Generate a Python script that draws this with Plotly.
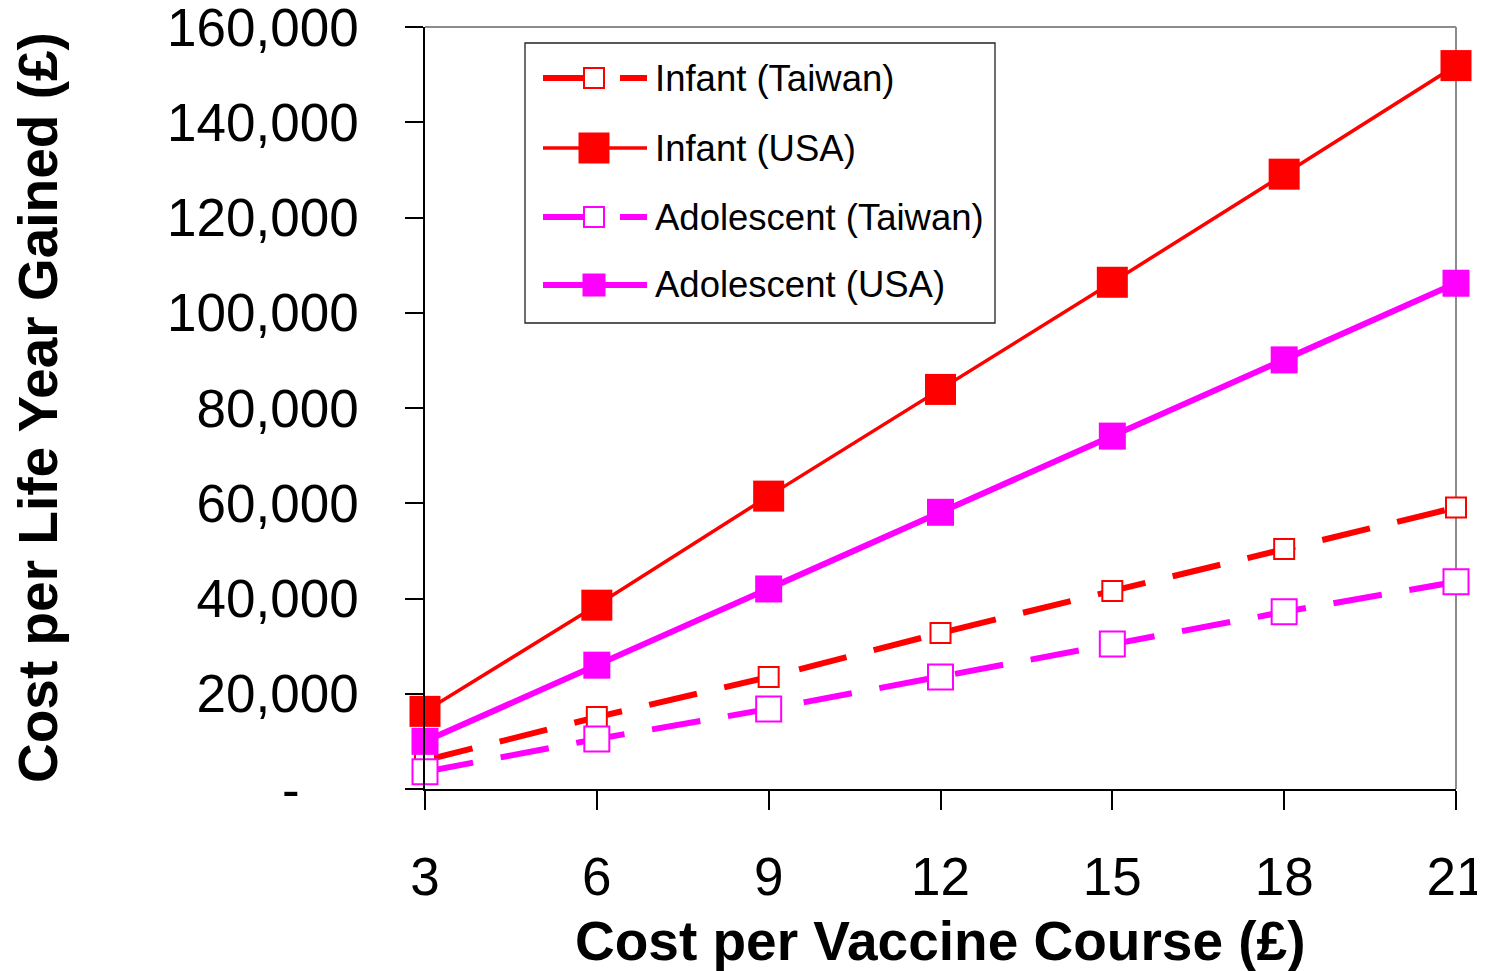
import plotly.graph_objects as go

# ---------------- data ----------------
cost_per_course = [3, 6, 9, 12, 15, 18, 21]
infant_taiwan = [6000, 15100, 23500, 32750, 41600, 50400, 59100]
infant_usa = [16300, 38600, 61500, 83900, 106400, 129100, 151900]
adolescent_taiwan = [3600, 10500, 16800, 23500, 30450, 37200, 43500]
adolescent_usa = [10000, 26000, 42000, 58100, 74100, 90100, 106200]

y_tick_vals = [0, 20000, 40000, 60000, 80000, 100000, 120000, 140000, 160000]
y_tick_text = ["-\u00a0\u00a0\u00a0\u00a0", "20,000", "40,000", "60,000", "80,000",
               "100,000", "120,000", "140,000", "160,000"]

series_names = ["Infant (Taiwan)", "Infant (USA)", "Adolescent (Taiwan)", "Adolescent (USA)"]

RED = "#FF0000"
MAG = "#FF00FF"
FONT = "Arial, Liberation Sans, sans-serif"
DASH = "49px,28px"

# page geometry (the html body adds an 8px margin)
PAGE_W, PAGE_H, OFF = 1485, 971, 8
W, H = PAGE_W - OFF, PAGE_H - OFF
# plot area in page pixels
L, R, T, B = 425, 1456, 27, 789


def px2x(px):
    return (px - L) / (R - L)


def py2y(py):
    return (B - py) / (B - T)


styles = [
    dict(color=RED, width=6, dash=DASH, msize=20, mfill="white", mline=2, lsize=20),
    dict(color=RED, width=3.5, dash="solid", msize=31, mfill=RED, mline=0, lsize=31),
    dict(color=MAG, width=6, dash=DASH, msize=25, mfill="white", mline=2, lsize=20),
    dict(color=MAG, width=6, dash="solid", msize=27, mfill=MAG, mline=0, lsize=23),
]
series_vals = [infant_taiwan, infant_usa, adolescent_taiwan, adolescent_usa]

fig = go.Figure()
for name, vals, st in zip(series_names, series_vals, styles):
    fig.add_trace(go.Scatter(
        x=cost_per_course, y=vals, name=name, mode="lines+markers",
        line=dict(color=st["color"], width=st["width"], dash=st["dash"]),
        marker=dict(symbol="square", size=st["msize"], color=st["mfill"],
                    line=dict(color=st["color"], width=st["mline"])),
        cliponaxis=False, showlegend=False,
    ))

shapes = []
annotations = []

# top & right gray border
shapes.append(dict(type="line", xref="paper", yref="paper", x0=0, x1=1, y0=1, y1=1,
                   line=dict(color="#8c8c8c", width=2), layer="above"))
shapes.append(dict(type="line", xref="paper", yref="paper", x0=1, x1=1, y0=0, y1=1,
                   line=dict(color="#8c8c8c", width=2), layer="below"))

# custom legend box
shapes.append(dict(type="rect", xref="paper", yref="paper",
                   x0=px2x(525), x1=px2x(995), y0=py2y(323), y1=py2y(43),
                   line=dict(color="#222222", width=1.3), fillcolor="white", layer="above"))
legend_rows = [78, 148, 217, 285]
for name, st, ry in zip(series_names, styles, legend_rows):
    yy = py2y(ry)
    shapes.append(dict(type="line", xref="paper", yref="paper",
                       x0=px2x(543), x1=px2x(647), y0=yy, y1=yy,
                       line=dict(color=st["color"], width=st["width"], dash=st["dash"]),
                       layer="above"))
    hs = st["lsize"] / 2
    shapes.append(dict(type="rect", xref="paper", yref="paper",
                       xsizemode="pixel", ysizemode="pixel",
                       xanchor=px2x(594), yanchor=yy,
                       x0=-hs, x1=hs, y0=-hs, y1=hs,
                       fillcolor=st["mfill"],
                       line=dict(color=st["color"], width=st["mline"] if st["mline"] else 0),
                       layer="above"))
    annotations.append(dict(xref="paper", yref="paper", x=px2x(653), y=yy,
                            xanchor="left", yanchor="middle", showarrow=False,
                            text=name, font=dict(family=FONT, size=36.5, color="black")))

# axis titles
annotations.append(dict(xref="paper", yref="paper", x=0.5, y=py2y(941),
                        xanchor="center", yanchor="middle", showarrow=False,
                        text="<b>Cost per Vaccine Course (£)</b>",
                        font=dict(family=FONT, size=55, color="black")))
annotations.append(dict(xref="paper", yref="paper", x=px2x(38), y=0.5,
                        xanchor="center", yanchor="middle", showarrow=False, textangle=-90,
                        text="<b>Cost per Life Year Gained (£)</b>",
                        font=dict(family=FONT, size=55, color="black")))

fig.update_layout(
    width=W, height=H,
    margin=dict(l=L - OFF, r=PAGE_W - R, t=T - OFF, b=PAGE_H - B, pad=0, autoexpand=False),
    paper_bgcolor="white", plot_bgcolor="white",
    showlegend=False,
    shapes=shapes, annotations=annotations,
    font=dict(family=FONT, color="black"),
    xaxis=dict(
        range=[3, 21], tickvals=cost_per_course, ticktext=[str(v) for v in cost_per_course],
        showgrid=False, zeroline=False, automargin=False,
        showline=True, linecolor="black", linewidth=2,
        ticks="outside", ticklen=19, tickwidth=1.5, tickcolor="black",
        tickfont=dict(family=FONT, size=53, color="black"),
        ticklabelstandoff=21, ticklabeloverflow="allow",
    ),
    yaxis=dict(
        range=[0, 160000], tickvals=y_tick_vals, ticktext=y_tick_text,
        showgrid=False, zeroline=False, automargin=False,
        showline=True, linecolor="black", linewidth=1.5,
        ticks="outside", ticklen=18, tickwidth=1.5, tickcolor="black",
        tickfont=dict(family=FONT, size=53, color="black"),
        ticklabelstandoff=36, ticklabeloverflow="allow",
    ),
)

fig.write_html("out.html")
